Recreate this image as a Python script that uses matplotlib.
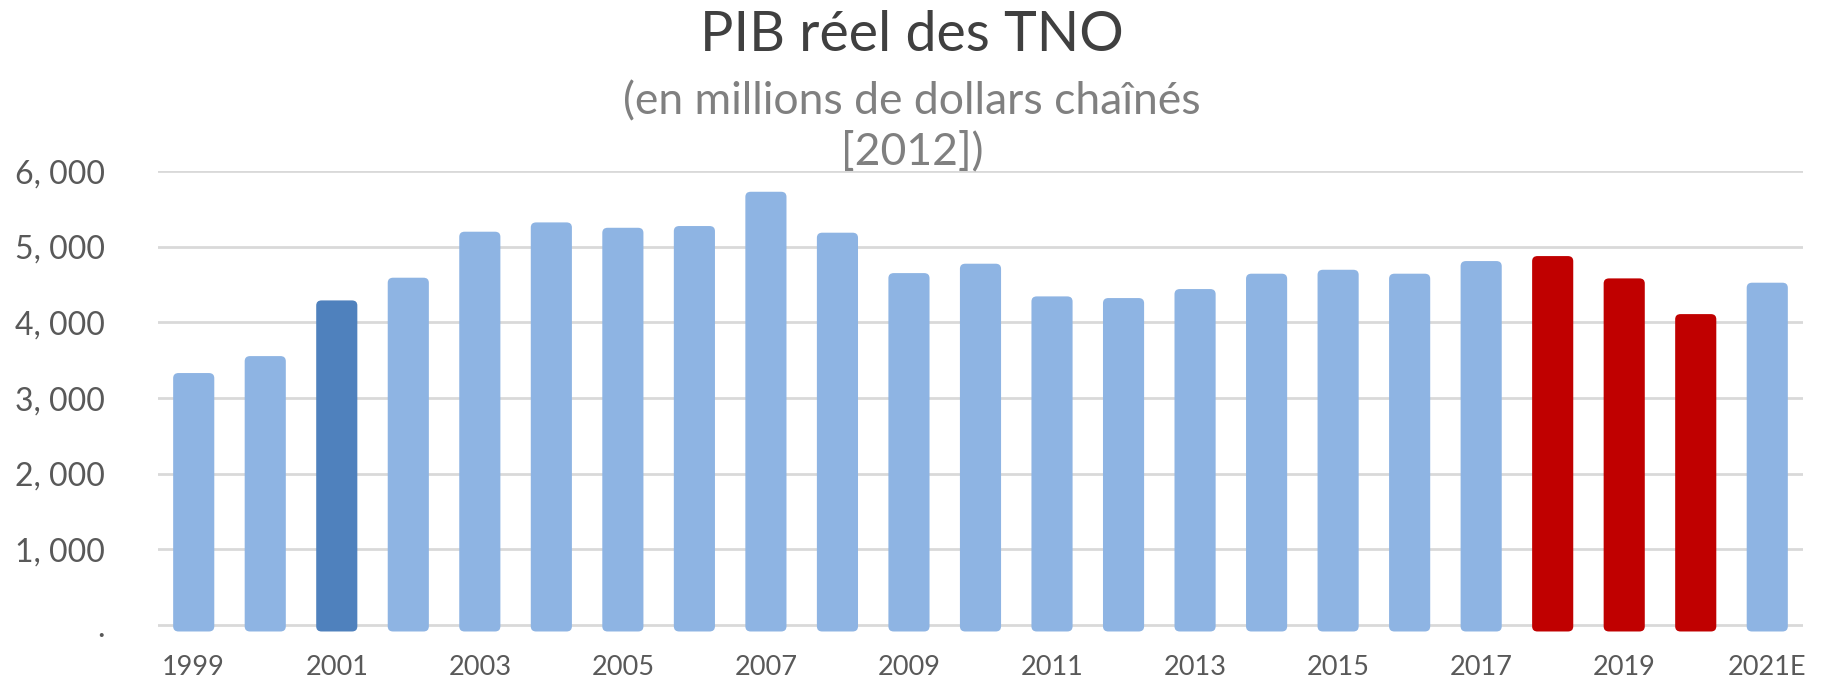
import matplotlib.pyplot as plt
from matplotlib.patches import FancyBboxPatch

plt.rcParams['font.family'] = ['Lato', 'DejaVu Sans']

# PIB reel des TNO, millions de dollars enchaines (2012)
annees = ['1999', '2000', '2001', '2002', '2003', '2004', '2005', '2006',
          '2007', '2008', '2009', '2010', '2011', '2012', '2013', '2014',
          '2015', '2016', '2017', '2018', '2019', '2020', '2021E']
pib = [3331, 3555, 4291, 4591, 5199, 5322, 5251, 5274, 5727, 5186, 4652,
       4776, 4344, 4322, 4441, 4644, 4696, 4644, 4811, 4877, 4582, 4110, 4525]
couleurs = ['#8EB4E3', '#8EB4E3', '#4F81BD'] + ['#8EB4E3'] * 16 + \
           ['#C00000', '#C00000', '#C00000', '#8EB4E3']
yticks = [0, 1000, 2000, 3000, 4000, 5000, 6000]
ylabels = ['.', '1, 000', '2, 000', '3, 000', '4, 000', '5, 000', '6, 000']

fig = plt.figure(figsize=(18.24, 6.79), dpi=100)
ax = fig.add_axes([0.0866, 0.0683, 0.9019, 0.6797])

x = list(range(len(annees)))
# bars start slightly under zero so the rounded foot shows below the line
bars = ax.bar(x, [v + 85 for v in pib], bottom=-85, width=0.575,
              color=couleurs, zorder=3)

# swap plain rectangles for rounded ones
for b in bars:
    r = FancyBboxPatch((b.get_x(), b.get_y()), b.get_width(), b.get_height(),
                       boxstyle='round,pad=0,rounding_size=0.075',
                       mutation_aspect=900, facecolor=b.get_facecolor(),
                       edgecolor='none', zorder=3)
    b.remove()
    ax.add_patch(r)

ax.set_xlim(-0.5, 22.5)
ax.set_ylim(-100, 6000)
ax.set_yticks(yticks)
ax.set_yticklabels(ylabels)
ax.set_xticks(x[::2])
ax.set_xticklabels(annees[::2])
ax.yaxis.grid(True, color='#D9D9D9', linewidth=2, zorder=0)
ax.tick_params(axis='both', length=0, colors='#595959')
ax.tick_params(axis='y', labelsize=23, pad=38)
ax.tick_params(axis='x', labelsize=19.5, pad=16)
for s in ax.spines.values():
    s.set_visible(False)

fig.text(0.5, 0.948, 'PIB réel des TNO', ha='center', va='center',
         fontsize=40, color='#404040')
fig.text(0.5, 0.85, '(en millions de dollars chaînés', ha='center',
         va='center', fontsize=32, color='#808080')
fig.text(0.5, 0.776, '[2012])', ha='center', va='center', fontsize=32,
         color='#808080')

plt.savefig('out.png')
